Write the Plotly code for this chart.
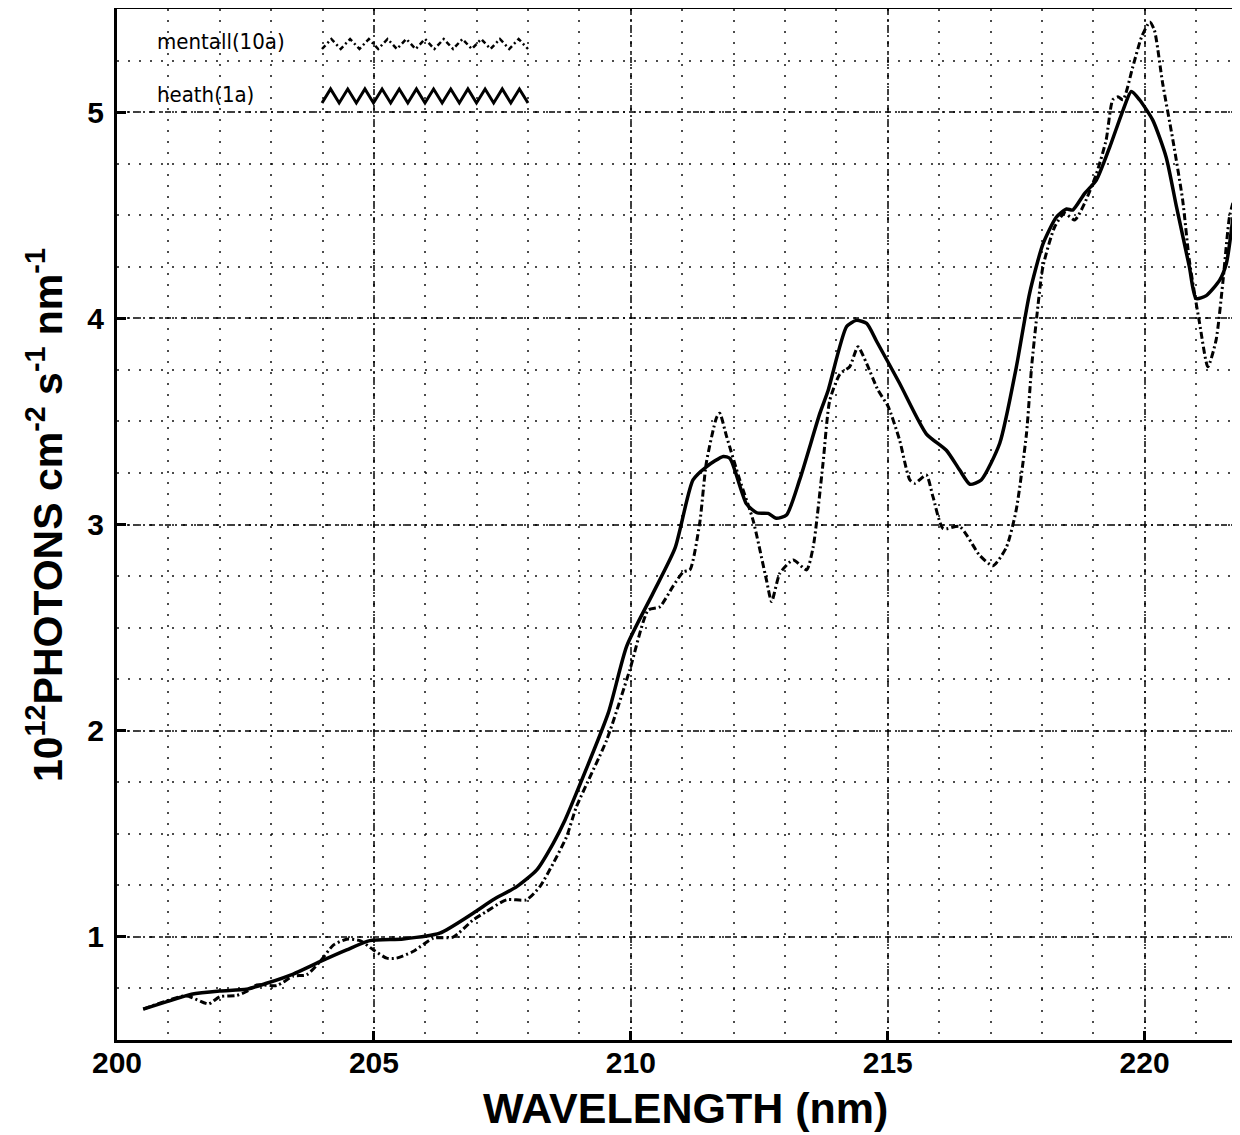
import plotly.graph_objects as go

# ---- data ----
heath_wl = [200.51, 200.97, 201.45, 202.0, 202.52, 202.91, 203.43, 203.95, 204.47, 204.92,
            205.57, 206.28, 206.93, 207.32, 207.78, 208.17, 208.49, 208.72, 208.94, 209.56,
            209.92, 210.43, 210.86, 211.21, 211.47, 211.8, 211.93, 212.25, 212.45, 212.67,
            212.83, 213.03, 213.29, 213.68, 213.84, 214.2, 214.39, 214.59, 214.78, 215.23,
            215.75, 216.14, 216.4, 216.6, 216.82, 217.18, 217.5, 217.76, 218.02, 218.28,
            218.48, 218.6, 218.83, 219.06, 219.32, 219.58, 219.74, 219.9, 220.16, 220.42,
            220.62, 220.87, 221.0, 221.2, 221.46, 221.59, 221.72]
heath_val = [0.65, 0.686, 0.722, 0.738, 0.746, 0.775, 0.82, 0.88, 0.937, 0.982,
             0.99, 1.018, 1.115, 1.18, 1.244, 1.325, 1.454, 1.567, 1.697, 2.085,
             2.41, 2.666, 2.885, 3.216, 3.28, 3.33, 3.32, 3.10, 3.057, 3.054,
             3.03, 3.046, 3.22, 3.54, 3.65, 3.96, 3.99, 3.975, 3.89, 3.685,
             3.44, 3.36, 3.264, 3.195, 3.216, 3.394, 3.76, 4.12, 4.36, 4.49,
             4.53, 4.525, 4.605, 4.67, 4.83, 5.01, 5.10, 5.06, 4.96, 4.78,
             4.54, 4.25, 4.096, 4.11, 4.185, 4.266, 4.49]

mentall_wl = [200.51, 201.03, 201.35, 201.78, 202.0, 202.33, 202.52, 202.72, 203.11, 203.43,
              203.69, 203.95, 204.21, 204.47, 204.73, 204.99, 205.25, 205.44, 205.76, 206.16,
              206.54, 206.93, 207.19, 207.58, 207.97, 208.23, 208.49, 208.75, 208.94, 209.53,
              209.98, 210.34, 210.56, 210.82, 211.02, 211.15, 211.34, 211.47, 211.67, 211.73,
              211.86, 212.12, 212.38, 212.64, 212.74, 212.90, 213.16, 213.42, 213.55, 213.74,
              213.87, 214.07, 214.26, 214.42, 214.59, 214.81, 215.01, 215.23, 215.43, 215.53,
              215.75, 215.88, 216.08, 216.4, 216.79, 217.05, 217.31, 217.50, 217.7, 217.8,
              217.9, 218.02, 218.25, 218.44, 218.64, 218.83, 219.06, 219.25, 219.38, 219.48,
              219.58, 219.77, 219.94, 220.1, 220.19, 220.35, 220.55, 220.74, 220.87, 221.07,
              221.23, 221.39, 221.52, 221.65, 221.75]
mentall_val = [0.65, 0.695, 0.715, 0.675, 0.71, 0.716, 0.735, 0.767, 0.764, 0.81,
               0.816, 0.88, 0.96, 0.989, 0.982, 0.937, 0.897, 0.897, 0.929, 0.994,
               0.999, 1.082, 1.123, 1.18, 1.18, 1.244, 1.357, 1.486, 1.63, 1.955,
               2.295, 2.585, 2.60, 2.70, 2.77, 2.78, 3.006, 3.30, 3.52, 3.54,
               3.43, 3.216, 3.02, 2.73, 2.626, 2.763, 2.828, 2.78, 2.892, 3.296,
               3.60, 3.73, 3.765, 3.862, 3.78, 3.652, 3.571, 3.41, 3.216, 3.20,
               3.24, 3.135, 2.98, 2.99, 2.85, 2.80, 2.89, 3.07, 3.44, 3.765,
               4.007, 4.25, 4.444, 4.509, 4.477, 4.557, 4.70, 4.864, 5.06, 5.074,
               5.06, 5.22, 5.364, 5.437, 5.397, 5.14, 4.864, 4.573, 4.28, 3.975,
               3.765, 3.894, 4.17, 4.49, 4.59]

x_ticks = [200, 205, 210, 215, 220]
y_ticks = [1, 2, 3, 4, 5]
series_names = ["mentall(10a)", "heath(1a)"]

# ---- figure ----
# the page body adds an 8px offset; positions below are given in screen pixels
OFF = 8
W, H = 1240, 1135
ML, MR, MT, MB = 117 - OFF, 16, 9 - OFF, H - (1040 - OFF)
PW, PH = W - ML - MR, H - MT - MB

def px_x(p):
    return (p - OFF - ML) / PW

def px_y(p):
    return (H - MB - (p - OFF)) / PH

fig = go.Figure()
fig.add_trace(go.Scatter(x=mentall_wl, y=mentall_val, mode="lines", name=series_names[0],
                         line=dict(color="black", width=3, dash="7px,3px,2px,3px",
                                   shape="spline", smoothing=0.6),
                         showlegend=False))
fig.add_trace(go.Scatter(x=heath_wl, y=heath_val, mode="lines", name=series_names[1],
                         line=dict(color="black", width=3.5, shape="spline", smoothing=0.6),
                         showlegend=False))

tickfont = dict(family="Liberation Sans, Arial, sans-serif", size=30, color="black", weight="bold")

fig.update_xaxes(range=[200, 221.7], tickvals=x_ticks, ticktext=[str(v) for v in x_ticks],
                 ticks="inside", ticklen=9, tickwidth=2.5, tickcolor="black",
                 showline=True, linecolor="black", linewidth=3, mirror=True,
                 showgrid=True, gridcolor="rgba(0,0,0,0.75)", gridwidth=1.5,
                 griddash="6px,4px,2px,4px", zeroline=False, tickfont=tickfont,
                 automargin=False, ticklabelstandoff=-6,
                 minor=dict(dtick=1, tick0=200, showgrid=True, gridcolor="rgba(0,0,0,0.7)",
                            gridwidth=1.5, griddash="2px,9px", ticks=""))
fig.update_yaxes(range=[0.5, 5.5], tickvals=y_ticks, ticktext=[str(v) for v in y_ticks],
                 ticks="inside", ticklen=9, tickwidth=2.5, tickcolor="black",
                 showline=True, linecolor="black", linewidth=3, mirror=True,
                 showgrid=True, gridcolor="rgba(0,0,0,0.75)", gridwidth=1.5,
                 griddash="6px,4px,2px,4px", zeroline=False, tickfont=tickfont,
                 automargin=False, ticklabelstandoff=4,
                 minor=dict(dtick=0.25, tick0=0, showgrid=True, gridcolor="rgba(0,0,0,0.7)",
                            gridwidth=1.5, griddash="2px,9px", ticks=""))

# custom legend: text + zigzag samples
legend_font = dict(family="Liberation Sans Narrow, DejaVu Sans Condensed, sans-serif",
                   size=22, color="black")
annotations = [
    dict(text=series_names[0], x=px_x(155), y=px_y(42), xref="paper", yref="paper",
         xanchor="left", yanchor="middle", showarrow=False, font=legend_font),
    dict(text=series_names[1], x=px_x(155), y=px_y(95), xref="paper", yref="paper",
         xanchor="left", yanchor="middle", showarrow=False, font=legend_font),
    dict(text="WAVELENGTH (nm)", x=px_x(685), y=px_y(1108), xref="paper", yref="paper",
         xanchor="center", yanchor="middle", showarrow=False,
         font=dict(family="Liberation Sans, Arial, sans-serif", size=43, color="black",
                   weight="bold")),
    dict(text="10<sup>12</sup>PHOTONS cm<sup>-2</sup> s<sup>-1</sup> nm<sup>-1</sup>",
         x=px_x(45), y=px_y(515), xref="paper", yref="paper", textangle=-90,
         xanchor="center", yanchor="middle", showarrow=False,
         font=dict(family="Liberation Sans, Arial, sans-serif", size=41, color="black",
                   weight="bold")),
]

def zigzag(x0p, x1p, ycp, amp, n):
    pts = []
    steps = 2 * n
    for i in range(steps + 1):
        xp = x0p + (x1p - x0p) * i / steps
        yp = ycp + (amp if i % 2 == 0 else -amp)
        pts.append((px_x(xp), px_y(yp)))
    return "M " + " L ".join(f"{a:.5f},{b:.5f}" for a, b in pts)

shapes = [
    dict(type="path", xref="paper", yref="paper", path=zigzag(322, 528, 44, 5, 11),
         line=dict(color="black", width=2.5, dash="5px,3px,2px,3px")),
    dict(type="path", xref="paper", yref="paper", path=zigzag(322, 528, 96, 7, 12),
         line=dict(color="black", width=3)),
]

fig.update_layout(width=W, height=H, margin=dict(l=ML, r=MR, t=MT, b=MB, autoexpand=False),
                  paper_bgcolor="white", plot_bgcolor="white",
                  annotations=annotations, shapes=shapes, showlegend=False)

fig.write_html("out.html")
